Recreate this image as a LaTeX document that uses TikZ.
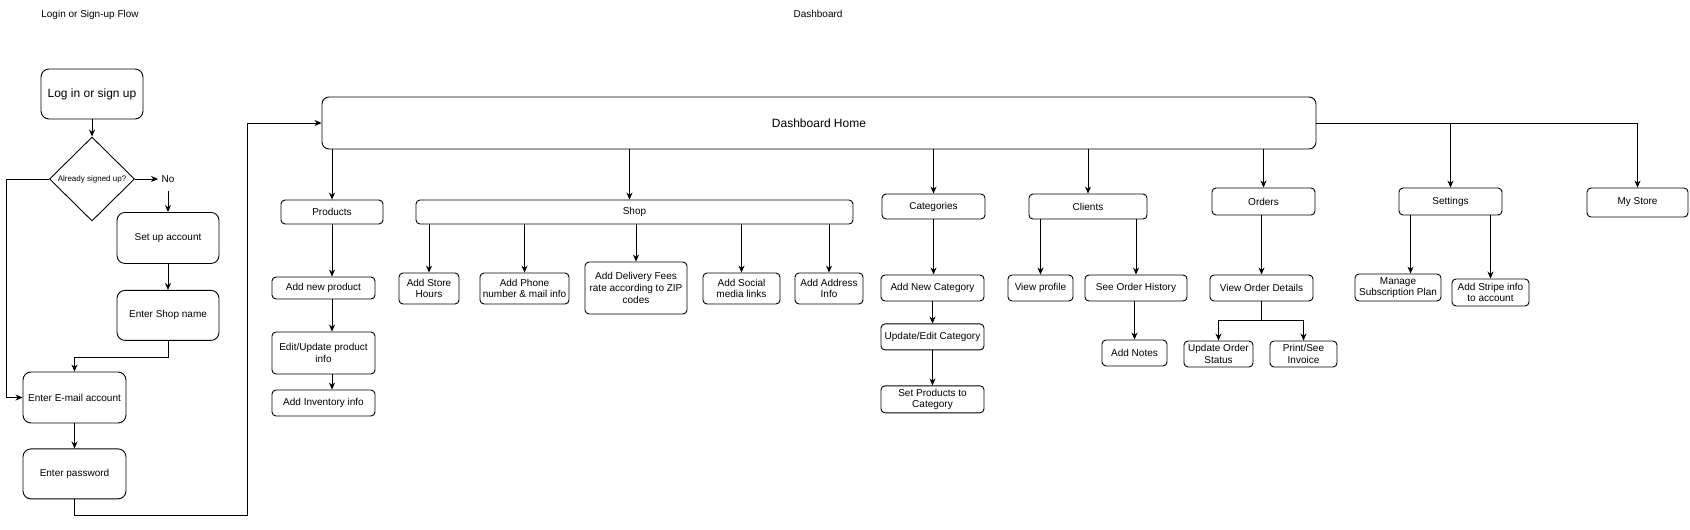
\documentclass[tikz,border=0pt]{standalone}
\usepackage{fontspec}
\setmainfont{Liberation Sans}
\usepackage{tikz}
\usetikzlibrary{positioning,arrows.meta,shapes.geometric}
\tikzset{
  box/.style={draw, line width=0.9pt, rounded corners=4pt, inner sep=0pt,
              minimum height=26pt, align=center},
  flowbox/.style={box, rounded corners=8pt, minimum width=102pt, minimum height=50pt},
  bigfont/.style={font=\fontsize{12}{14}\selectfont},
  decision/.style={draw, line width=0.9pt, diamond, inner sep=0pt, minimum width=85pt,
                   minimum height=84pt, font=\fontsize{8}{9}\selectfont},
  arrow/.style={-{Stealth[length=7pt,width=6pt]}, line width=0.9pt},
}
\begin{document}
\begin{tikzpicture}[x=1pt, y=-1pt, font=\fontsize{10}{11.7}\selectfont]
  \useasboundingbox (0,0) rectangle (1690,530);

  % headings
  \node (hlogin) at (90,15) {Login or Sign-up Flow};
  \node (hdash) at (818,14) {Dashboard};

  % login / sign-up path
  \node[flowbox, bigfont] (login) at (92,94) {Log in or sign up};
  \node[decision] (signed) at (92,179) {Already signed up?};
  \node (no) at (168,179) {No};
  \node[flowbox, minimum height=51pt, below=26pt of no] (setup) {Set up account};
  \node[flowbox, below=26pt of setup] (shopname) {Enter Shop name};
  \node[flowbox, minimum width=103pt, minimum height=51pt] (email) at (74.5,397.5) {Enter E-mail account};
  \node[flowbox, minimum width=103pt, below=25pt of email] (password) {Enter password};
  \coordinate (turn) at (247,515);

  \draw[arrow] (login) -- (signed);
  \draw[arrow] (signed) -- (no);
  \draw[arrow, shorten <=5pt] (no) -- (setup);
  \draw[arrow] (setup) -- (shopname);
  \draw[arrow] (shopname.south) -- ++(0,17) -| (email.north);
  \draw[arrow] (signed.west) -- ++(-43,0) |- (email.west);
  \draw[arrow] (email) -- (password);

  % dashboard
  \node[box, rounded corners=7pt, minimum width=994pt, minimum height=52pt, bigfont] (dash) at (819,123) {Dashboard Home};
  \draw[arrow] (password.south) |- (turn) |- (dash.west);

  \node[box, minimum width=102pt, minimum height=24pt] (products) at (332,212) {Products};
  \node[box, minimum width=437pt, minimum height=24pt] (shop) at (634.5,212) {Shop};
  \node[box, minimum width=103pt, minimum height=25pt] (categories) at (933.5,206.5) {Categories};
  \node[box, minimum width=118pt, minimum height=25pt] (clients) at (1088,206.5) {Clients};
  \node[box, minimum width=103pt, minimum height=27pt] (orders) at (1263.5,201.5) {Orders};
  \node[box, minimum width=103pt, minimum height=27pt] (settings) at (1450.5,201.5) {Settings};
  \node[box, minimum width=101pt, minimum height=29pt] (mystore) at (1637.5,202.5) {My Store};
  \coordinate (shoptop) at ([xshift=-5pt]shop.north);

  \draw[arrow] (dash.south -| products.north) -- (products.north);
  \draw[arrow] (dash.south -| shoptop) -- (shoptop);
  \draw[arrow] (dash.south -| categories.north) -- (categories.north);
  \draw[arrow] (dash.south -| clients.north) -- (clients.north);
  \draw[arrow] (dash.south -| orders.north) -- (orders.north);
  \draw[arrow] (dash.east) -| (mystore.north);
  \draw[arrow] (dash.east -| settings.north) -- (settings.north);

  % products
  \node[box, minimum width=103pt, minimum height=22pt] (addprod) at (323.5,288) {Add new product};
  \node[box, minimum width=103pt, minimum height=42pt] (editprod) at (323.5,353) {Edit/Update product\\info};
  \node[box, minimum width=103pt] (inventory) at (323.5,403) {Add Inventory info};
  \draw[arrow] (products.south) -- (products.south |- addprod.north);
  \draw[arrow] (addprod.south -| products.south) -- (editprod.north -| products.south);
  \draw[arrow] (editprod.south -| products.south) -- (inventory.north -| products.south);

  % shop
  \node[box, minimum width=60pt, minimum height=31pt] (hours) at (429,288.5) {Add Store\\Hours};
  \node[box, minimum width=89pt, minimum height=31pt] (phone) at (524.5,288.5) {Add Phone\\number \& mail info};
  \node[box, minimum width=102pt, minimum height=52pt] (delivery) at (636,288) {Add Delivery Fees\\rate according to ZIP\\codes};
  \node[box, minimum width=77pt, minimum height=31pt] (social) at (741.5,288.5) {Add Social\\media links};
  \node[box, minimum width=68pt, minimum height=31pt] (address) at (829,288.5) {Add Address\\Info};
  \draw[arrow] (shop.south -| hours.north) -- (hours.north);
  \draw[arrow] (shop.south -| phone.north) -- (phone.north);
  \draw[arrow] (shop.south -| delivery.north) -- (delivery.north);
  \draw[arrow] (shop.south -| social.north) -- (social.north);
  \draw[arrow] (shop.south -| address.north) -- (address.north);

  % categories
  \node[box, minimum width=103pt] (addcat) at (932.5,288) {Add New Category};
  \node[box, minimum width=103pt, below=22pt of addcat] (updcat) {Update/Edit Category};
  \node[box, minimum width=103pt, minimum height=27pt, below=35pt of updcat] (setprod) {Set Products to\\Category};
  \draw[arrow] (categories.south) -- (categories.south |- addcat.north);
  \draw[arrow] (addcat) -- (updcat);
  \draw[arrow] (updcat) -- (setprod);

  % clients
  \node[box, minimum width=65pt] (viewprof) at (1040.5,288) {View profile};
  \node[box, minimum width=102pt] (history) at (1136,288) {See Order History};
  \node[box, minimum width=65pt] (notes) at (1134.5,353) {Add Notes};
  \draw[arrow] (clients.south -| viewprof.north) -- (viewprof.north);
  \draw[arrow] (clients.south -| history.north) -- (history.north);
  \draw[arrow] (history.south -| notes.north) -- (notes.north);

  % orders
  \node[box, minimum width=103pt] (details) at (1261.5,288) {View Order Details};
  \node[box, minimum width=69pt] (status) at (1218.5,354) {Update Order\\Status};
  \node[box, minimum width=67pt] (invoice) at (1303.5,354) {Print/See\\Invoice};
  \draw[arrow] (orders.south -| details.north) -- (details.north);
  \draw[arrow] (details.south) -- ++(0,19) -| (status.north);
  \draw[arrow] (details.south) -- ++(0,19) -| (invoice.north);

  % settings
  \node[box, minimum width=86pt, minimum height=27pt] (subscr) at (1398,287.5) {Manage\\Subscription Plan};
  \node[box, minimum width=77pt, minimum height=27pt] (stripe) at (1490.5,292.5) {Add Stripe info\\to account};
  \coordinate (subtop) at ([xshift=12pt]settings.south west);
  \draw[arrow] (subtop) -- (subtop |- subscr.north);
  \draw[arrow] (settings.south -| stripe.north) -- (stripe.north);
\end{tikzpicture}
\end{document}
